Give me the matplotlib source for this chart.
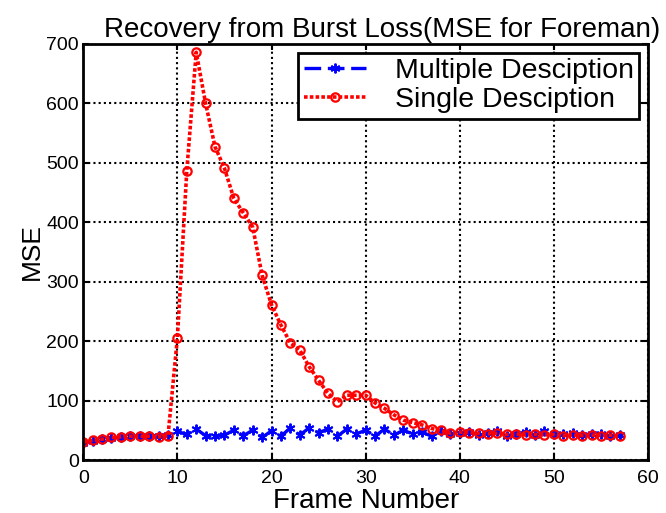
import numpy as np
import matplotlib.pyplot as plt

plt.rcParams['font.family'] = ['Liberation Sans', 'DejaVu Sans']

# Data
frames = list(range(58))
multiple_mse = [28, 32, 35, 37, 38, 40, 40, 41, 41, 42,
                48, 43, 52, 41, 40, 42, 50, 41, 50, 38,
                49, 40, 54, 42, 54, 46, 52, 40, 52, 44,
                50, 40, 52, 42, 50, 44, 47, 40, 48, 44,
                46, 47, 42, 45, 48, 41, 44, 47, 42, 48,
                43, 44, 46, 42, 44, 43, 41, 42]
single_mse = [30, 33, 35, 38, 39, 40, 40, 40, 39, 40,
              205, 487, 686, 600, 527, 491, 440, 416, 392, 311,
              261, 227, 197, 185, 157, 134, 112, 98, 109, 109,
              109, 96, 87, 76, 67, 63, 59, 53, 50, 45,
              47, 46, 45, 44, 45, 43, 44, 42, 43, 42,
              43, 41, 42, 41, 42, 41, 42, 40]

xticks = [0, 10, 20, 30, 40, 50, 60]
yticks = [0, 100, 200, 300, 400, 500, 600, 700]

fig = plt.figure(figsize=(6.66, 5.13), dpi=100)
ax = fig.add_axes([0.125, 0.1033, 0.848, 0.811])

ax.plot(frames, multiple_mse, color='blue', linestyle=(0, (5, 2)), linewidth=2.4,
        marker=(6, 2, 0), markersize=7, markeredgewidth=1.4, label='Multiple Desciption')
ax.plot(frames, single_mse, color='red', linestyle=(0, (1, 0.6)), linewidth=2.6,
        marker='o', markersize=6, markerfacecolor='none', markeredgewidth=1.6,
        label='Single Desciption')

ax.set_xlim(0, 60)
ax.set_ylim(0, 700)
ax.set_xticks(xticks)
ax.set_yticks(yticks)
ax.tick_params(direction='in', top=True, right=True, labelsize=14, width=1.5, length=4)
ax.tick_params(axis='x', pad=7)
ax.tick_params(axis='y', pad=3)
for s in ax.spines.values():
    s.set_linewidth(2)
ax.grid(True, color='black', linestyle=(0, (1, 1.5)), linewidth=1.5)

ax.set_title('Recovery from Burst Loss(MSE for Foreman)', fontsize=20, pad=5, x=0.53)
ax.set_xlabel('Frame Number', fontsize=20, labelpad=1)
ax.set_ylabel('MSE', fontsize=19, labelpad=2)

leg = ax.legend(loc='upper right', fontsize=20.5, fancybox=False, framealpha=1,
                edgecolor='black', handlelength=2.2, handletextpad=1.0,
                borderaxespad=0.3, labelspacing=0.1, borderpad=0.2)
leg.get_frame().set_linewidth(2)

fig.savefig('out.png', dpi=100)
